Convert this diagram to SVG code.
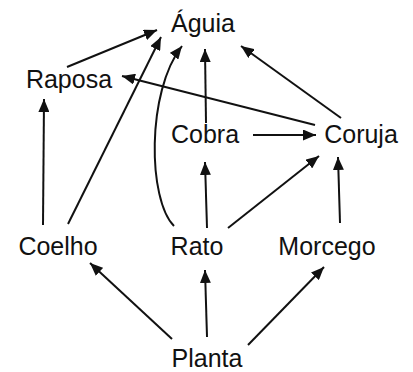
<svg xmlns="http://www.w3.org/2000/svg" width="413" height="372" viewBox="0 0 413 372">
<style>
.lbl{font-family:"Liberation Sans",Arial,sans-serif;font-size:25px;fill:#111;text-anchor:middle}
.e{stroke:#111;stroke-width:2;fill:none;marker-end:url(#ah)}
</style>
<defs>
<marker id="ah" markerUnits="userSpaceOnUse" markerWidth="13" markerHeight="11" refX="13" refY="5.5" orient="auto" viewBox="0 0 13 11">
<path d="M0,0 L13,5.5 L0,11 z" fill="#111"/>
</marker>
</defs>
<rect width="413" height="372" fill="#fff"/>
<g id="connectors">
<line class="e" x1="67" y1="67" x2="157" y2="30"/>
<line class="e" x1="68" y1="224" x2="161" y2="37"/>
<path class="e" d="M174,226 C148,200 146,92 182,46"/>
<line class="e" x1="206" y1="123" x2="205" y2="49"/>
<line class="e" x1="341" y1="118" x2="241" y2="46"/>
<line class="e" x1="315" y1="125" x2="122" y2="76"/>
<line class="e" x1="43" y1="225" x2="44" y2="99"/>
<line class="e" x1="253" y1="135" x2="316" y2="135"/>
<line class="e" x1="207" y1="228" x2="205" y2="162"/>
<line class="e" x1="228" y1="228" x2="319" y2="156"/>
<line class="e" x1="340" y1="223" x2="338" y2="157"/>
<line class="e" x1="172" y1="339" x2="90" y2="263"/>
<line class="e" x1="207" y1="337" x2="205" y2="270"/>
<line class="e" x1="248" y1="345" x2="324" y2="267"/>
</g>
<g id="aguia"><text class="lbl" x="203" y="32">Águia</text></g>
<g id="raposa"><text class="lbl" x="69" y="88">Raposa</text></g>
<g id="cobra"><text class="lbl" x="205" y="143">Cobra</text></g>
<g id="coruja"><text class="lbl" x="361" y="143">Coruja</text></g>
<g id="coelho"><text class="lbl" x="58" y="255">Coelho</text></g>
<g id="rato"><text class="lbl" x="197" y="255">Rato</text></g>
<g id="morcego"><text class="lbl" x="327" y="255">Morcego</text></g>
<g id="planta"><text class="lbl" x="207" y="367">Planta</text></g>
</svg>
